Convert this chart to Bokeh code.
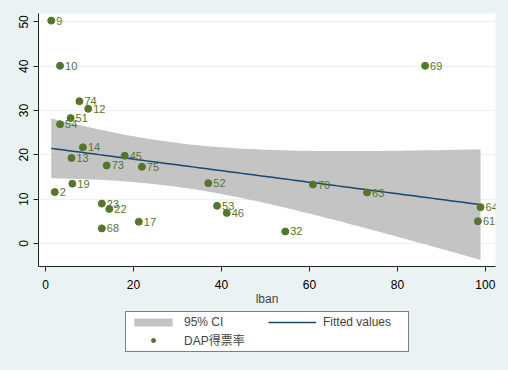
import numpy as np
from bokeh.plotting import figure
from bokeh.layouts import column
from bokeh.models import ColumnDataSource, Legend, LegendItem, FixedTicker, Range1d
from bokeh.core.properties import value
from bokeh.embed import file_html
from bokeh.resources import INLINE

# ---- data ----
ids = ["9", "10", "74", "12", "51", "54", "14", "13", "45", "73", "75", "19", "2",
       "23", "22", "68", "17", "52", "53", "46", "32", "70", "63", "64", "61", "69"]
lban = [1.3, 3.3, 7.7, 9.7, 5.7, 3.3, 8.5, 5.9, 18.0, 13.9, 21.9, 6.1, 2.1,
        12.8, 14.5, 12.8, 21.2, 37.0, 39.0, 41.2, 54.5, 60.8, 73.1, 98.9, 98.3, 86.3]
dap = [50.3, 40.1, 32.1, 30.4, 28.3, 26.9, 21.7, 19.3, 19.8, 17.6, 17.3, 13.5, 11.6,
       9.0, 7.8, 3.4, 4.9, 13.6, 8.5, 6.9, 2.7, 13.3, 11.5, 8.2, 5.0, 40.1]
x_ticks = [0, 20, 40, 60, 80, 100]
y_ticks = [0, 10, 20, 30, 40, 50]

# ---- linear fit with 95% CI of the mean (as Stata lfitci) ----
xa = np.array(lban)
ya = np.array(dap)
n = len(xa)
slope, icpt = np.polyfit(xa, ya, 1)
resid = ya - (icpt + slope * xa)
s = np.sqrt(np.sum(resid ** 2) / (n - 2))
xbar = xa.mean()
sxx = np.sum((xa - xbar) ** 2)
t975 = 2.0639  # t(0.975, df=24)
xs = np.linspace(xa.min(), xa.max(), 100)
fit = icpt + slope * xs
se = s * np.sqrt(1.0 / n + (xs - xbar) ** 2 / sxx)
lo = fit - t975 * se
hi = fit + t975 * se

BG = "#EAF2F3"
GREEN = "#55752F"
NAVY = "#1A476F"
GRAY = "#C4C4C4"
FONT = "'Liberation Sans', Arial, 'Noto Sans CJK SC', sans-serif"

# ---------------- main plot ----------------
p = figure(width=508, height=308, output_backend="svg", toolbar_location=None,
           x_range=(-1.6, 102.3), y_range=(-5.2, 51.9),
           min_border_left=38, min_border_right=13, min_border_top=13,
           min_border_bottom=41)
p.background_fill_color = "white"
p.border_fill_color = BG
p.outline_line_color = None

p.varea(x=xs, y1=lo, y2=hi, fill_color=GRAY, fill_alpha=1.0)
p.line(x=xs, y=fit, line_color=NAVY, line_width=1.5)

src = ColumnDataSource(dict(x=lban, y=dap, lab=ids))
p.scatter("x", "y", source=src, size=7, fill_color=GREEN, line_color=GREEN)
p.text("x", "y", text="lab", source=src, x_offset=5, text_baseline="middle",
       text_font_size="11px", text_color=GREEN, text_font=value("Liberation Sans"))

p.xaxis.ticker = FixedTicker(ticks=x_ticks)
p.yaxis.ticker = FixedTicker(ticks=y_ticks)
p.xaxis.axis_label = "lban"
p.xaxis.axis_label_text_font_style = "normal"
p.xaxis.axis_label_text_font_size = "12px"
p.xaxis.axis_label_text_font = "Liberation Sans"
p.xaxis.axis_label_standoff = 0
for ax in (p.xaxis, p.yaxis):
    ax.axis_line_color = "#222222"
    ax.major_tick_line_color = "#222222"
    ax.major_tick_out = 5
    ax.major_tick_in = 0
    ax.minor_tick_line_color = None
    ax.major_label_text_font_size = "12px"
    ax.major_label_text_font = "Liberation Sans"
    ax.major_label_text_color = "black"
p.xaxis.major_label_standoff = 8
p.yaxis.major_label_orientation = "vertical"
p.xgrid.grid_line_color = None
p.ygrid.grid_line_color = BG
p.ygrid.grid_line_width = 1

# ---------------- legend strip ----------------
q = figure(width=508, height=62, output_backend="svg", toolbar_location=None,
           x_range=Range1d(0, 1), y_range=Range1d(0, 1), min_border=0,
           x_axis_location=None, y_axis_location=None)
q.background_fill_color = BG
q.border_fill_color = BG
q.outline_line_color = None
q.grid.visible = False
# legend-key renderers, placed outside the visible range
key = ColumnDataSource(dict(x=[5, 6], y=[5, 6], y1=[5, 5], y2=[6, 6]))
r_ci = q.varea(x="x", y1="y1", y2="y2", source=key, fill_color=GRAY, fill_alpha=1.0)
r_fit = q.line(x="x", y="y", source=key, line_color=NAVY, line_width=1.5)
r_pts = q.scatter(x="x", y="y", source=key, size=7, fill_color=GREEN, line_color=GREEN)

legend = Legend(items=[
    LegendItem(label="95% CI", renderers=[r_ci]),
    LegendItem(label="DAP得票率", renderers=[r_pts]),
    LegendItem(label="Fitted values", renderers=[r_fit]),
], location=(87, 18), ncols=2)
legend.glyph_width = 48
legend.glyph_height = 10
legend.label_height = 14
legend.label_width = 82
legend.label_standoff = 7
legend.spacing = 2
legend.padding = 3
legend.margin = 0
legend.label_text_font_size = "12px"
legend.label_text_font = FONT
legend.border_line_color = "black"
legend.border_line_width = 1
legend.background_fill_color = "white"
legend.background_fill_alpha = 1.0
q.add_layout(legend, "center")

page = column(p, q, spacing=0)
page.styles = {"background-color": BG}

open("out.html", "w").write(file_html(page, INLINE))
